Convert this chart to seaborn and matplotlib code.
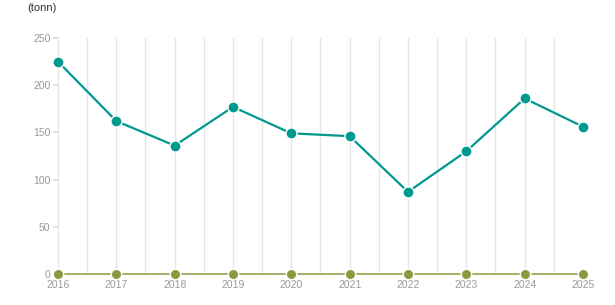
import matplotlib
matplotlib.use("Agg")
import matplotlib.pyplot as plt
import seaborn as sns
import pandas as pd
from matplotlib.ticker import MultipleLocator

years = [2016, 2017, 2018, 2019, 2020, 2021, 2022, 2023, 2024, 2025]
series_a = [225, 162, 136, 177, 149, 146, 87, 130, 186, 156]
series_b = [0, 0, 0, 0, 0, 0, 0, 0, 0, 0]
y_ticks = [0, 50, 100, 150, 200, 250]
unit_label = "(tonn)"

sns.set_theme(style="white")
plt.rcParams['font.family'] = ['Liberation Sans', 'DejaVu Sans']

df = pd.DataFrame({
    "year": years * 2,
    "value": series_a + series_b,
    "series": ["A"] * len(years) + ["B"] * len(years),
})

fig = plt.figure(figsize=(6.15, 3.05), dpi=100)
ax = fig.add_axes([58 / 615, 1 - 274 / 305, (583 - 58) / 615, (274 - 38) / 305])

palette = {"A": "#00998f", "B": "#8a9a3f"}
sns.lineplot(data=df[df.series == "B"], x="year", y="value", color=palette["B"],
             linewidth=1.1, marker="o", markersize=7.5, markeredgecolor="white",
             markeredgewidth=1.0, ax=ax, clip_on=False, zorder=3, legend=False)
sns.lineplot(data=df[df.series == "A"], x="year", y="value", color=palette["A"],
             linewidth=1.6, marker="o", markersize=8, markeredgecolor="white",
             markeredgewidth=1.0, ax=ax, clip_on=False, zorder=4, legend=False)

ax.set_xlim(years[0], years[-1])
ax.set_ylim(0, 250)
ax.set_xticks(years)
ax.set_xticklabels([str(y) for y in years])
ax.xaxis.set_minor_locator(MultipleLocator(0.5))
ax.set_yticks(y_ticks)
ax.grid(axis="x", which="both", color="#e6e6e6", linewidth=1)
ax.grid(axis="y", visible=False)
for s in ["top", "right", "bottom", "left"]:
    ax.spines[s].set_visible(False)
ax.tick_params(axis="x", which="both", length=0, labelsize=7.5, labelcolor="#999999", pad=4)
ax.tick_params(axis="y", length=3.5, color="#dddddd", labelsize=7.5, labelcolor="#999999", pad=2, left=True)
ax.set_xlabel("")
ax.set_ylabel("")
fig.text(27 / 615, 1 - 8 / 305, unit_label, fontsize=8, color="#333333", va="center", ha="left")

fig.savefig("out.png", dpi=100)
